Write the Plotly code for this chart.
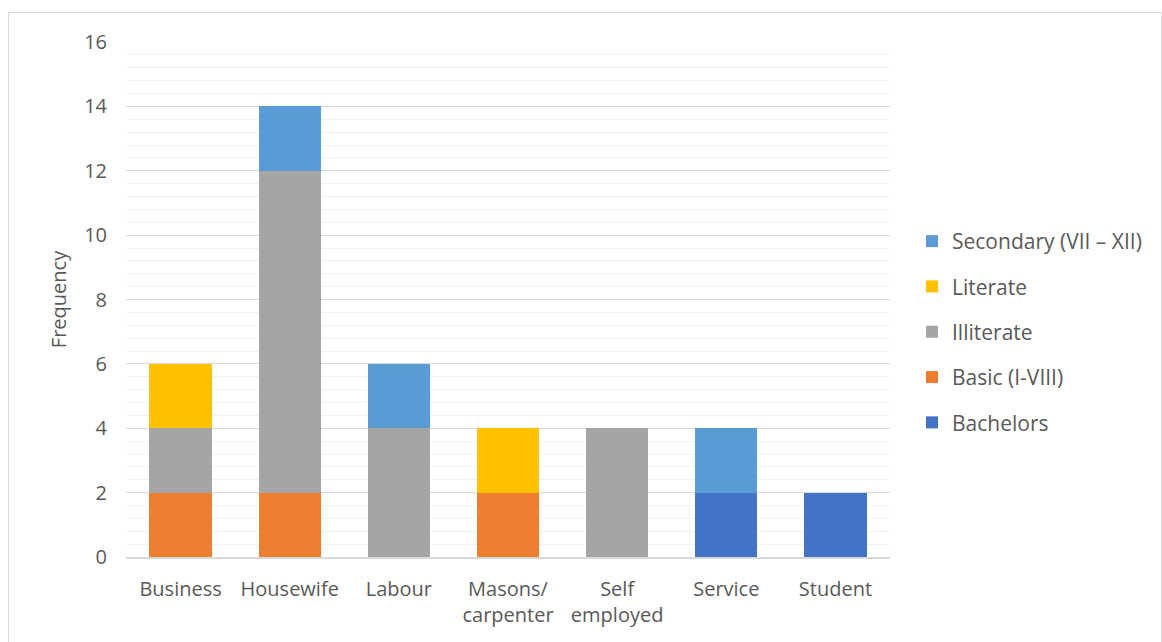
import plotly.graph_objects as go

categories = ["Business", "Housewife", "Labour", "Masons/<br>carpenter", "Self<br>employed", "Service", "Student"]
series_names = ["Bachelors", "Basic (I-VIII)", "Illiterate", "Literate", "Secondary (VII – XII)"]
bachelors = [0, 0, 0, 0, 0, 2, 2]
basic = [2, 2, 0, 2, 0, 0, 0]
illiterate = [2, 10, 4, 0, 4, 0, 0]
literate = [2, 0, 0, 2, 0, 0, 0]
secondary = [0, 2, 2, 0, 0, 2, 0]
colors = ["#4472C4", "#ED7D31", "#A5A5A5", "#FFC000", "#5B9BD5"]
y_ticks = [0, 2, 4, 6, 8, 10, 12, 14, 16]

W, H = 1162, 642
L, R, T, B = 126, 272, 42, 85
pw, ph = W - L - R, H - T - B

def px(x):
    return (x - L) / pw

def py(y):
    return (H - B - y) / ph

fig = go.Figure()
for i, (name, vals, col) in enumerate(zip(series_names, [bachelors, basic, illiterate, literate, secondary], colors)):
    fig.add_trace(go.Bar(
        x=categories, y=vals, name=name, marker=dict(color=col, line=dict(width=0)),
        legendgroup=name, legendrank=1000 - i,
    ))

font = "Open Sans, Liberation Sans, sans-serif"
fig.update_layout(
    width=W, height=H,
    margin=dict(l=L, r=R, t=T, b=B),
    barmode="stack", bargap=0.43,
    plot_bgcolor="white", paper_bgcolor="white",
    font=dict(family=font, size=20, color="#595959"),
    showlegend=True,
    legend=dict(
        x=px(912), xanchor="left", y=py(221), yanchor="top",
        traceorder="grouped", tracegroupgap=15,
        font=dict(size=21, color="#595959"),
        itemwidth=30,
    ),
    xaxis=dict(
        showgrid=False, showline=True, linecolor="#D9D9D9", linewidth=1.5,
        ticks="", tickfont=dict(size=20, color="#595959"), ticklabelstandoff=13,
    ),
    yaxis=dict(
        range=[0, 16], tickvals=y_ticks, showgrid=True, gridcolor="#D9D9D9", gridwidth=1,
        zeroline=False, showline=False, ticks="",
        tickfont=dict(size=20, color="#595959"), ticklabelstandoff=18,
        minor=dict(dtick=0.4, showgrid=True, gridcolor="#F2F2F2", gridwidth=1),
        title=dict(text="Frequency", font=dict(size=20, color="#595959"), standoff=12),
    ),
    shapes=[
        dict(type="rect", xref="paper", yref="paper",
             x0=px(8.5), x1=px(1161.5), y0=py(660), y1=py(12.5),
             line=dict(color="#D9D9D9", width=1), fillcolor="rgba(0,0,0,0)", layer="below"),
    ],
)

fig.write_html("out.html")
